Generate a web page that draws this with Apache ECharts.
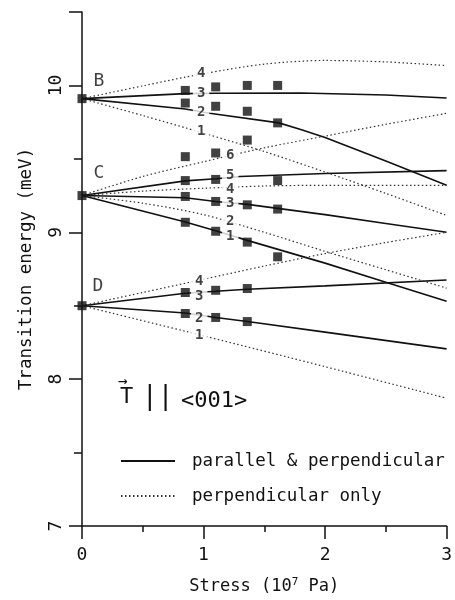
<!DOCTYPE html>
<html>
<head>
<meta charset="utf-8">
<script src="https://cdn.jsdelivr.net/npm/echarts@6/dist/echarts.min.js"></script>
<style>
  html, body { margin: 0; background: #fff; }
  #chart { width: 455px; height: 600px; }
</style>
</head>
<body>
<div id="chart"></div>
<script>
  // stress (10^7 Pa), transition energy (meV)
  // solid: parallel & perpendicular
  const solidB3 = [[0, 9.91], [0.85, 9.944], [1.1, 9.947], [1.8, 9.948], [2.5, 9.935], [3, 9.914]];
  const solidB2 = [[0, 9.91], [0.85, 9.84], [1.05, 9.81], [1.62, 9.745], [1.8, 9.70], [2.0, 9.645], [2.5, 9.485], [3, 9.32]];
  const solidC5 = [[0, 9.25], [0.85, 9.35], [1.1, 9.365], [1.3, 9.38], [2.0, 9.40], [3, 9.42]];
  const solidC3 = [[0, 9.25], [0.85, 9.235], [1.1, 9.21], [1.36, 9.19], [1.61, 9.163], [2.0, 9.12], [2.5, 9.06], [3, 9.0]];
  const solidC1 = [[0, 9.25], [0.85, 9.07], [1.1, 9.01], [1.36, 8.945], [2.0, 8.79], [2.5, 8.66], [3, 8.53]];
  const solidD3 = [[0, 8.50], [0.85, 8.585], [1.1, 8.598], [1.36, 8.612], [2.0, 8.635], [3, 8.675]];
  const solidD2 = [[0, 8.50], [0.85, 8.45], [1.1, 8.42], [1.36, 8.392], [2.0, 8.32], [3, 8.206]];

  // dotted: perpendicular only
  const dotB4 = [[0, 9.91], [0.5, 9.997], [1.0, 10.08], [1.5, 10.145], [2.0, 10.17], [2.5, 10.16], [3, 10.135]];
  const dotB1 = [[0, 9.91], [0.5, 9.795], [1.0, 9.675], [1.5, 9.55], [2.0, 9.41], [2.5, 9.265], [3, 9.115]];
  const dotC6 = [[0, 9.25], [0.5, 9.38], [1.0, 9.48], [1.5, 9.575], [2.0, 9.655], [2.5, 9.735], [3, 9.81]];
  const dotC4 = [[0, 9.25], [0.5, 9.28], [1.0, 9.30], [1.5, 9.315], [2.0, 9.32], [3, 9.32]];
  const dotC2 = [[0, 9.25], [0.5, 9.198], [1.0, 9.12], [1.5, 9.0], [2.0, 8.87], [2.5, 8.745], [3, 8.62]];
  const dotD4 = [[0, 8.50], [0.5, 8.59], [1.0, 8.68], [1.5, 8.77], [2.0, 8.855], [2.5, 8.93], [3, 9.0]];
  const dotD1 = [[0, 8.50], [1.0, 8.295], [2.0, 8.085], [3, 7.87]];

  // measured points
  const measured = [
    [0, 9.91], [0, 9.25], [0, 8.50],
    [0.85, 9.966], [0.85, 9.88], [0.85, 9.515], [0.85, 9.352], [0.85, 9.244], [0.85, 9.068], [0.85, 8.59], [0.85, 8.447],
    [1.1, 9.99], [1.1, 9.858], [1.1, 9.54], [1.1, 9.36], [1.1, 9.21], [1.1, 9.007], [1.1, 8.605], [1.1, 8.42],
    [1.36, 10.0], [1.36, 9.824], [1.36, 9.628], [1.36, 9.187], [1.36, 8.933], [1.36, 8.617], [1.36, 8.392],
    [1.61, 10.0], [1.61, 9.745], [1.61, 9.352], [1.61, 9.158], [1.61, 8.833]
  ];

  // branch numbers on the curves
  const branchLabels = [
    [0.98, 10.08, '4'], [0.98, 9.944, '3'], [0.98, 9.82, '2'], [0.98, 9.684, '1'],
    [1.22, 9.526, '6'], [1.22, 9.39, '5'], [1.22, 9.29, '4'], [1.22, 9.194, '3'], [1.22, 9.075, '2'], [1.22, 8.97, '1'],
    [0.965, 8.668, '4'], [0.965, 8.567, '3'], [0.965, 8.414, '2'], [0.965, 8.30, '1']
  ];
  const groupLabels = [[0.14, 10.03, 'B'], [0.14, 9.40, 'C'], [0.13, 8.63, 'D']];

  const FONT = 'DejaVu Sans Mono';
  const SOLID = 'parallel & perpendicular';
  const DOTTED = 'perpendicular only';

  function curve(data, dotted) {
    return {
      type: 'line',
      name: dotted ? DOTTED : SOLID,
      data: data,
      symbol: 'none',
      smooth: dotted ? 0.3 : false,
      silent: true,
      z: 2,
      itemStyle: { color: '#111' },
      lineStyle: dotted
        ? { color: '#333', width: 1.2, type: [1.5, 2.5] }
        : { color: '#111', width: 1.6 }
    };
  }

  const chart = echarts.init(document.getElementById('chart'));
  chart.setOption({
    animation: false,
    backgroundColor: '#fff',
    grid: { left: 82, right: 7, top: 12, bottom: 72 },
    legend: {
      data: [SOLID, DOTTED],
      orient: 'vertical',
      left: 120,
      top: 452,
      padding: 0,
      itemWidth: 54,
      itemHeight: 14,
      itemGap: 17,
      selectedMode: false,
      itemStyle: { opacity: 0 },
      textStyle: { fontFamily: FONT, fontSize: 17.5, color: '#111', lineHeight: 18, padding: [0, 0, 0, 12] }
    },
    xAxis: {
      type: 'value',
      min: 0, max: 3, interval: 1,
      name: '{a|Stress (10}{s|7}{a| Pa)}',
      nameLocation: 'middle',
      nameGap: 51,
      nameTextStyle: {
        rich: {
          a: { fontFamily: FONT, fontSize: 17, color: '#111' },
          s: { fontFamily: FONT, fontSize: 11, color: '#111', verticalAlign: 'top', padding: [0, 0, 8, 0] }
        }
      },
      axisLine: { lineStyle: { color: '#111', width: 1.5 } },
      axisTick: { length: 13, lineStyle: { color: '#111', width: 1.5 } },
      minorTick: { show: true, splitNumber: 2, length: 6, lineStyle: { color: '#111', width: 1.5 } },
      axisLabel: { fontFamily: FONT, fontSize: 18, color: '#111', margin: 20 },
      splitLine: { show: false }
    },
    yAxis: {
      type: 'value',
      min: 7, max: 10.5, interval: 1,
      name: 'Transition energy (meV)',
      nameLocation: 'middle',
      nameRotate: 90,
      nameGap: 47,
      nameTextStyle: { fontFamily: FONT, fontSize: 17.5, color: '#111' },
      axisLine: { show: true, lineStyle: { color: '#111', width: 1.5 } },
      axisTick: { show: true, length: 13, lineStyle: { color: '#111', width: 1.5 } },
      minorTick: { show: true, splitNumber: 2, length: 8, lineStyle: { color: '#111', width: 1.5 } },
      axisLabel: { fontFamily: FONT, fontSize: 18, color: '#111', rotate: 90, margin: 17, showMaxLabel: false },
      splitLine: { show: false }
    },
    graphic: [
      { type: 'text', left: 118, top: 374, style: { text: '→', font: '16px ' + FONT, fill: '#111' } },
      { type: 'text', left: 120, top: 386, style: { text: 'T', font: '22px ' + FONT, fill: '#111' } },
      { type: 'text', left: 142, top: 384, style: { text: '||', font: '26px ' + FONT, fill: '#111' } },
      { type: 'text', left: 181, top: 390, style: { text: '<001>', font: '22px ' + FONT, fill: '#111' } }
    ],
    series: [
      curve(solidB3, false), curve(solidB2, false), curve(solidC5, false), curve(solidC3, false),
      curve(solidC1, false), curve(solidD3, false), curve(solidD2, false),
      curve(dotB4, true), curve(dotB1, true), curve(dotC6, true), curve(dotC4, true),
      curve(dotC2, true), curve(dotD4, true), curve(dotD1, true),
      {
        type: 'scatter',
        data: branchLabels.map(d => ({ value: [d[0], d[1]], name: d[2] })),
        symbolSize: 0,
        silent: true,
        z: 3,
        label: {
          show: true, position: 'inside', formatter: '{b}',
          fontFamily: FONT, fontSize: 14, fontWeight: 'bold', color: '#111',
          backgroundColor: '#fff', padding: [0, 4]
        }
      },
      {
        type: 'scatter',
        data: groupLabels.map(d => ({ value: [d[0], d[1]], name: d[2] })),
        symbolSize: 0,
        silent: true,
        z: 3,
        label: {
          show: true, position: 'inside', formatter: '{b}',
          fontFamily: FONT, fontSize: 18, color: '#111'
        }
      },
      {
        type: 'scatter',
        data: measured,
        symbol: 'rect',
        symbolSize: 9,
        clip: false,
        silent: true,
        z: 4,
        itemStyle: { color: '#111' }
      }
    ]
  });
</script>
</body>
</html>
